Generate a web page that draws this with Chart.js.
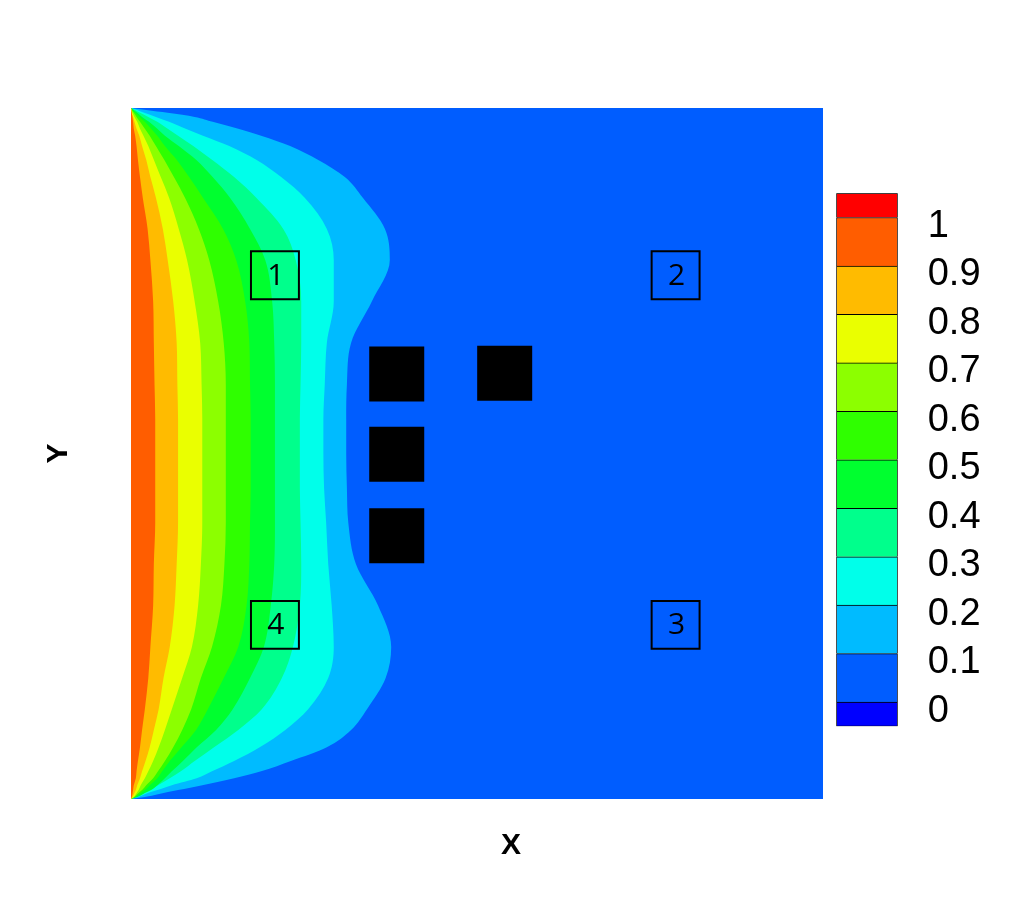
<!DOCTYPE html>
<html>
<head>
<meta charset="utf-8">
<title>Contour field</title>
<script src="https://cdn.jsdelivr.net/npm/chart.js@4.4.1/dist/chart.umd.min.js"></script>
<style>
  html, body { margin: 0; padding: 0; background: #fff; }
  #wrap { position: relative; width: 1012px; height: 900px; }
  #field { position: absolute; left: 0; top: 0; }
  #legend { position: absolute; left: 800px; top: 133px; }
</style>
</head>
<body>
<div id="wrap">
  <canvas id="field" width="1012" height="900"></canvas>
  <canvas id="legend" width="212" height="654"></canvas>
</div>
<script>
// =============== D A T A ================================
// y stations along the hot wall (0 = bottom, 1 = top), shared by all contour lines
const yStations = [1, 0.997, 0.993, 0.987, 0.98, 0.97, 0.96, 0.945, 0.925, 0.9, 0.87, 0.825, 0.78,
  0.72, 0.66, 0.6, 0.55, 0.5, 0.45, 0.4, 0.34, 0.28, 0.22, 0.175, 0.13, 0.1, 0.075, 0.055, 0.04,
  0.03, 0.02, 0.013, 0.007, 0.003, 0];

// x position of each contour line at the stations above
const line09 = [0, 0, 0.001, 0.002, 0.003, 0.004, 0.006, 0.008, 0.010, 0.013, 0.017, 0.024, 0.028,
  0.032, 0.033, 0.034, 0.035, 0.035, 0.035, 0.035, 0.033, 0.032, 0.028, 0.025, 0.020, 0.016, 0.013,
  0.010, 0.008, 0.007, 0.004, 0.003, 0.002, 0.001, 0];
const line08 = [0, 0.001, 0.001, 0.003, 0.005, 0.008, 0.012, 0.016, 0.022, 0.028, 0.036, 0.046, 0.053,
  0.061, 0.066, 0.067, 0.068, 0.068, 0.068, 0.068, 0.066, 0.063, 0.056, 0.047, 0.040, 0.033, 0.027,
  0.021, 0.016, 0.013, 0.009, 0.007, 0.004, 0.002, 0];
const line07 = [0, 0.001, 0.002, 0.005, 0.009, 0.013, 0.018, 0.025, 0.033, 0.043, 0.055, 0.069, 0.081,
  0.092, 0.100, 0.102, 0.103, 0.103, 0.103, 0.103, 0.101, 0.097, 0.088, 0.074, 0.059, 0.049, 0.040,
  0.032, 0.025, 0.020, 0.014, 0.011, 0.007, 0.004, 0];
const line06 = [0, 0.001, 0.004, 0.008, 0.013, 0.020, 0.027, 0.036, 0.048, 0.062, 0.078, 0.098, 0.113,
  0.126, 0.134, 0.137, 0.137, 0.137, 0.137, 0.137, 0.135, 0.130, 0.117, 0.101, 0.087, 0.074, 0.061,
  0.049, 0.039, 0.032, 0.022, 0.016, 0.009, 0.005, 0];
const line05 = [0, 0.002, 0.006, 0.012, 0.020, 0.029, 0.038, 0.049, 0.066, 0.084, 0.104, 0.133, 0.152,
  0.165, 0.171, 0.172, 0.173, 0.173, 0.173, 0.172, 0.171, 0.167, 0.155, 0.134, 0.111, 0.094, 0.073,
  0.056, 0.045, 0.038, 0.027, 0.020, 0.012, 0.006, 0];
const line04 = [0, 0.004, 0.009, 0.016, 0.026, 0.038, 0.049, 0.069, 0.094, 0.118, 0.143, 0.172, 0.194,
  0.204, 0.207, 0.208, 0.208, 0.208, 0.208, 0.208, 0.207, 0.202, 0.192, 0.172, 0.147, 0.123, 0.095,
  0.075, 0.059, 0.049, 0.038, 0.029, 0.017, 0.009, 0];
const line03 = [0, 0.006, 0.013, 0.025, 0.038, 0.053, 0.068, 0.090, 0.117, 0.149, 0.181, 0.220, 0.238,
  0.246, 0.246, 0.245, 0.244, 0.244, 0.244, 0.245, 0.246, 0.244, 0.234, 0.218, 0.189, 0.155, 0.120,
  0.092, 0.072, 0.056, 0.039, 0.027, 0.016, 0.009, 0];
const line02 = [0, 0.009, 0.019, 0.036, 0.055, 0.079, 0.104, 0.142, 0.181, 0.217, 0.251, 0.283, 0.293,
  0.293, 0.283, 0.280, 0.278, 0.278, 0.279, 0.282, 0.285, 0.290, 0.293, 0.285, 0.256, 0.223, 0.186,
  0.149, 0.117, 0.095, 0.059, 0.038, 0.020, 0.010, 0];
const line01 = [0, 0.022, 0.053, 0.092, 0.118, 0.155, 0.188, 0.230, 0.270, 0.309, 0.335, 0.367, 0.374,
  0.348, 0.318, 0.312, 0.311, 0.311, 0.312, 0.314, 0.325, 0.357, 0.376, 0.368, 0.341, 0.318, 0.283,
  0.231, 0.188, 0.149, 0.103, 0.068, 0.039, 0.020, 0];

const levels = [0.9, 0.8, 0.7, 0.6, 0.5, 0.4, 0.3, 0.2, 0.1];
const contourLines = [line09, line08, line07, line06, line05, line04, line03, line02, line01];

// the cold walls of the domain (whole field starts in the 0 - 0.1 band)
const domainX = [1, 1];
const domainY = [1, 0];

// solid blocks and the numbered probe boxes
const blockX = [0.384, 0.540, 0.384, 0.384];
const blockY = [0.615, 0.616, 0.499, 0.381];
const probeX = [0.208, 0.787, 0.787, 0.208];
const probeY = [0.758, 0.758, 0.252, 0.252];
const probeLabels = ['1', '2', '3', '4'];

// colour bar: band limits, colours (below 0 ... above 1) and tick labels
const bandLo = [-0.05, 0, 0.1, 0.2, 0.3, 0.4, 0.5, 0.6, 0.7, 0.8, 0.9, 1];
const bandHi = [0, 0.1, 0.2, 0.3, 0.4, 0.5, 0.6, 0.7, 0.8, 0.9, 1, 1.05];
const bandColors = ['#0000FF', '#005DFF', '#00BBFF', '#00FFEA', '#00FF8C', '#00FF2F',
  '#2FFF00', '#8CFF00', '#EAFF00', '#FFBB00', '#FF5D00', '#FF0000'];
const colorbarTicks = ['0', '0.1', '0.2', '0.3', '0.4', '0.5', '0.6', '0.7', '0.8', '0.9', '1'];

// =============== F I E L D ================================
const toPoints = (xs, ys) => xs.map((x, i) => ({ x, y: ys[i] }));

const overlayText = {
  id: 'overlayText',
  afterDatasetsDraw(chart) {
    const { ctx, chartArea, scales: { x, y } } = chart;
    ctx.save();
    ctx.fillStyle = '#000';
    ctx.textAlign = 'center';
    ctx.textBaseline = 'middle';
    ctx.font = '30px "Open Sans"';
    probeLabels.forEach((t, i) => {
      ctx.fillText(t, x.getPixelForValue(probeX[i]) + 1, y.getPixelForValue(probeY[i]) + 1);
    });
    // axis titles
    ctx.font = 'bold 30px "Liberation Sans"';
    ctx.fillText('X', chartArea.left + chartArea.width * 0.549, chartArea.bottom + 47);
    ctx.translate(chartArea.left - 72, (chartArea.top + chartArea.bottom) / 2);
    ctx.rotate(-Math.PI / 2);
    ctx.fillText('Y', 0, 0);
    ctx.restore();
  }
};

const fieldSets = [
  {
    label: 'probes',
    data: toPoints(probeX, probeY),
    showLine: false,
    fill: false,
    pointStyle: 'rect',
    pointRadius: 33.9,
    pointBackgroundColor: 'rgba(0,0,0,0)',
    pointBorderColor: '#000',
    pointBorderWidth: 2
  },
  {
    label: 'blocks',
    data: toPoints(blockX, blockY),
    showLine: false,
    fill: false,
    pointStyle: 'rect',
    pointRadius: 38.9,
    pointBackgroundColor: '#000',
    pointBorderWidth: 0
  }
];

contourLines.forEach((xs, i) => {
  fieldSets.push({
    label: String(levels[i]),
    data: toPoints(xs, yStations),
    backgroundColor: bandColors[Math.round(levels[i] * 10) + 1],
    borderWidth: 0,
    pointRadius: 0,
    fill: 'origin',
    cubicInterpolationMode: 'monotone'
  });
});

fieldSets.push({
  label: '0',
  data: toPoints(domainX, domainY),
  backgroundColor: bandColors[1],
  borderWidth: 0,
  pointRadius: 0,
  fill: 'origin'
});

new Chart(document.getElementById('field'), {
  type: 'line',
  data: { datasets: fieldSets },
  options: {
    indexAxis: 'y',
    responsive: false,
    animation: false,
    events: [],
    layout: { padding: { left: 131, top: 108, right: 189, bottom: 101 } },
    plugins: { legend: { display: false }, tooltip: { enabled: false } },
    scales: {
      x: { type: 'linear', min: 0, max: 1, display: false },
      y: { type: 'linear', min: 0, max: 1, display: false }
    }
  },
  plugins: [overlayText]
});

// =============== C O L O U R   B A R ================================
new Chart(document.getElementById('legend'), {
  type: 'bar',
  data: {
    labels: [''],
    datasets: bandLo.map((lo, i) => ({
      data: [[lo, bandHi[i]]],
      backgroundColor: bandColors[i],
      borderColor: '#000',
      borderWidth: { top: 1, left: 1, right: 1, bottom: i === 0 ? 1 : 0 },
      borderSkipped: false,
      grouped: false,
      barPercentage: 1,
      categoryPercentage: 1
    }))
  },
  options: {
    responsive: false,
    animation: false,
    events: [],
    // top/bottom padding larger than the tick label half height + tick padding
    layout: { padding: { left: 36.3, top: 60.3, right: 24.3, bottom: 60.7 } },
    plugins: { legend: { display: false }, tooltip: { enabled: false } },
    scales: {
      x: { display: false },
      y: {
        position: 'right',
        min: -0.05,
        max: 1.05,
        grid: { display: false, drawTicks: false },
        border: { display: false },
        afterBuildTicks: axis => {
          axis.ticks = colorbarTicks.map(t => ({ value: parseFloat(t) }));
        },
        afterFit: axis => { axis.width = 90; },
        ticks: {
          padding: 30,
          labelOffset: 9,
          color: '#000',
          font: { family: 'Liberation Sans', size: 38 },
          callback: (v, i) => colorbarTicks[i]
        }
      }
    }
  }
});
</script>
</body>
</html>
